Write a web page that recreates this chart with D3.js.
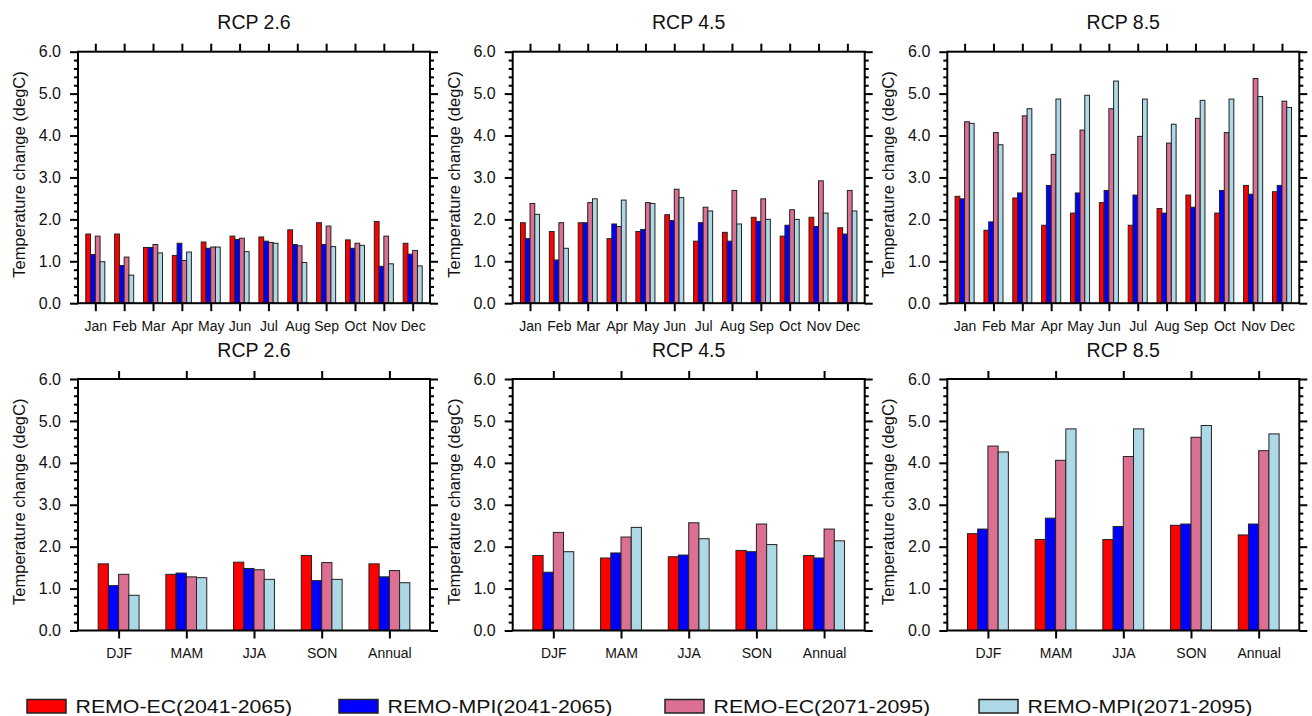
<!DOCTYPE html>
<html>
<head>
<meta charset="utf-8">
<script src="https://cdn.jsdelivr.net/npm/d3@7"></script>
<style>
  html, body { margin: 0; padding: 0; background: #fff; }
  svg { display: block; font-family: "Liberation Sans", Helvetica, Arial, sans-serif; }
</style>
</head>
<body>
<svg id="chart" width="1312" height="716"></svg>
<script>
// categories
const months = ["Jan", "Feb", "Mar", "Apr", "May", "Jun", "Jul", "Aug", "Sep", "Oct", "Nov", "Dec"];
const seasons = ["DJF", "MAM", "JJA", "SON", "Annual"];
const scenarios = ["RCP 2.6", "RCP 4.5", "RCP 8.5"];
const seriesNames = ["REMO-EC(2041-2065)", "REMO-MPI(2041-2065)", "REMO-EC(2071-2095)", "REMO-MPI(2071-2095)"];
const yTicks = [0, 1, 2, 3, 4, 5, 6];

// monthly values: [EC 41-65, MPI 41-65, EC 71-95, MPI 71-95]
const rcp26Mon = [
    [1.65, 1.65, 1.33, 1.14, 1.46, 1.60, 1.58, 1.75, 1.92, 1.51, 1.95, 1.43],
    [1.16, 0.90, 1.33, 1.43, 1.31, 1.52, 1.48, 1.40, 1.40, 1.31, 0.88, 1.17],
    [1.60, 1.10, 1.40, 1.02, 1.34, 1.55, 1.45, 1.37, 1.84, 1.43, 1.60, 1.26],
    [0.99, 0.67, 1.20, 1.22, 1.34, 1.23, 1.43, 0.97, 1.35, 1.38, 0.94, 0.89]
];
const rcp45Mon = [
    [1.92, 1.71, 1.92, 1.54, 1.71, 2.11, 1.48, 1.69, 2.05, 1.60, 2.05, 1.80],
    [1.54, 1.03, 1.92, 1.89, 1.76, 1.97, 1.92, 1.48, 1.95, 1.86, 1.83, 1.65],
    [2.38, 1.92, 2.40, 1.83, 2.40, 2.72, 2.29, 2.69, 2.49, 2.23, 2.92, 2.69],
    [2.12, 1.31, 2.49, 2.46, 2.38, 2.52, 2.20, 1.89, 2.00, 2.00, 2.15, 2.20]
];
const rcp85Mon = [
    [2.55, 1.74, 2.51, 1.86, 2.15, 2.40, 1.86, 2.26, 2.58, 2.15, 2.81, 2.66],
    [2.49, 1.94, 2.63, 2.81, 2.63, 2.69, 2.58, 2.15, 2.29, 2.69, 2.60, 2.81],
    [4.33, 4.07, 4.47, 3.55, 4.13, 4.64, 3.98, 3.82, 4.41, 4.07, 5.36, 4.82],
    [4.29, 3.78, 4.64, 4.87, 4.96, 5.30, 4.87, 4.27, 4.84, 4.87, 4.93, 4.67]
];

// seasonal / annual values
const rcp26Sea = [
    [1.59, 1.34, 1.63, 1.79, 1.59],
    [1.07, 1.37, 1.48, 1.19, 1.28],
    [1.34, 1.28, 1.45, 1.62, 1.43],
    [0.84, 1.26, 1.22, 1.22, 1.14]
];
const rcp45Sea = [
    [1.79, 1.73, 1.76, 1.91, 1.79],
    [1.39, 1.85, 1.80, 1.88, 1.73],
    [2.34, 2.23, 2.57, 2.54, 2.42],
    [1.88, 2.46, 2.19, 2.05, 2.14]
];
const rcp85Sea = [
    [2.31, 2.17, 2.17, 2.51, 2.28],
    [2.42, 2.68, 2.48, 2.54, 2.54],
    [4.40, 4.06, 4.15, 4.61, 4.29],
    [4.26, 4.81, 4.81, 4.89, 4.69]
];

const colors = ["#ff0000", "#0000ff", "#db7093", "#add8e6"];

const svg = d3.select("#chart");

const plotW = 352;
const plotH = 251.5;
const lefts = [78, 512.7, 947.3];
const tops = [51.7, 379];

const panels = [
    { row: 0, col: 0, cats: months, data: rcp26Mon, title: scenarios[0], bw: 0.165 },
    { row: 0, col: 1, cats: months, data: rcp45Mon, title: scenarios[1], bw: 0.165 },
    { row: 0, col: 2, cats: months, data: rcp85Mon, title: scenarios[2], bw: 0.165 },
    { row: 1, col: 0, cats: seasons, data: rcp26Sea, title: scenarios[0], bw: 0.151 },
    { row: 1, col: 1, cats: seasons, data: rcp45Sea, title: scenarios[1], bw: 0.151 },
    { row: 1, col: 2, cats: seasons, data: rcp85Sea, title: scenarios[2], bw: 0.151 }
];

function drawPanel(p) {
    const x0 = lefts[p.col];
    const y0 = tops[p.row];
    const n = p.cats.length;
    const g = svg.append("g").attr("transform", `translate(${x0},${y0})`);

    const xScale = d3.scaleLinear().domain([0.4, n + 0.6]).range([0, plotW]);
    const yScale = d3.scaleLinear().domain([0, 6]).range([plotH, 0]);
    const catIdx = d3.range(1, n + 1);
    const minor = d3.range(0, 6.001, 0.2).filter(v => Math.abs(v - Math.round(v)) > 1e-6);

    // bars
    p.data.forEach((series, j) => {
        g.append("g")
         .selectAll("rect")
         .data(series)
         .enter()
         .append("rect")
         .attr("x", (d, i) => xScale(i + 1 + (j - 2) * p.bw))
         .attr("width", xScale(p.bw) - xScale(0))
         .attr("y", d => yScale(d))
         .attr("height", d => yScale(0) - yScale(d))
         .attr("fill", colors[j])
         .attr("stroke", "#222")
         .attr("stroke-width", 1);
    });

    // left axis (major with labels, minor without)
    const left = g.append("g")
        .call(d3.axisLeft(yScale).tickValues(yTicks).tickSize(8).tickPadding(9)
              .tickFormat(d3.format(".1f")));
    g.append("g")
        .call(d3.axisLeft(yScale).tickValues(minor).tickSize(4).tickFormat(""));

    // right axis
    g.append("g").attr("transform", `translate(${plotW},0)`)
        .call(d3.axisRight(yScale).tickValues(yTicks).tickSize(8).tickFormat(""));
    g.append("g").attr("transform", `translate(${plotW},0)`)
        .call(d3.axisRight(yScale).tickValues(minor).tickSize(4).tickFormat(""));

    // bottom and top axes
    const bottom = g.append("g").attr("transform", `translate(0,${plotH})`)
        .call(d3.axisBottom(xScale).tickValues(catIdx).tickSize(8).tickPadding(10)
              .tickFormat(d => p.cats[d - 1]));
    g.append("g")
        .call(d3.axisTop(xScale).tickValues(catIdx).tickSize(8).tickFormat(""));

    g.selectAll(".domain").remove();
    g.selectAll(".tick line").attr("stroke", "#000").attr("stroke-width", 2);
    left.selectAll("text").attr("font-size", 16).attr("fill", "#111");
    bottom.selectAll("text").attr("font-size", 14).attr("fill", "#111");

    // frame
    g.append("rect")
     .attr("x", 0).attr("y", 0)
     .attr("width", plotW).attr("height", plotH)
     .attr("fill", "none")
     .attr("stroke", "#000")
     .attr("stroke-width", 2);

    // title
    g.append("text")
     .attr("x", plotW / 2)
     .attr("y", -22.5)
     .attr("text-anchor", "middle")
     .attr("font-size", 19.5)
     .attr("fill", "#111")
     .text(p.title);

    // y label
    g.append("text")
     .attr("transform", `translate(-53,${plotH / 2 - 3}) rotate(-90)`)
     .attr("text-anchor", "middle")
     .attr("font-size", 16.5)
     .attr("fill", "#111")
     .text("Temperature change (degC)");
}

panels.forEach(drawPanel);

// legend
const legendX = [27, 339, 665, 979];
const legend = svg.append("g");
seriesNames.forEach((name, j) => {
    legend.append("rect")
          .attr("x", legendX[j])
          .attr("y", 699.5)
          .attr("width", 39)
          .attr("height", 13.5)
          .attr("fill", colors[j])
          .attr("stroke", "#222")
          .attr("stroke-width", 1.5);
    const t = legend.append("text")
          .attr("x", legendX[j] + 48.5)
          .attr("y", 712.5)
          .attr("font-size", 19)
          .attr("fill", "#111")
          .text(name);
    // reference legend text is drawn wider than its height suggests
    const len = t.node().getComputedTextLength();
    t.attr("textLength", len * 21.3 / 19).attr("lengthAdjust", "spacingAndGlyphs");
});
</script>
</body>
</html>
